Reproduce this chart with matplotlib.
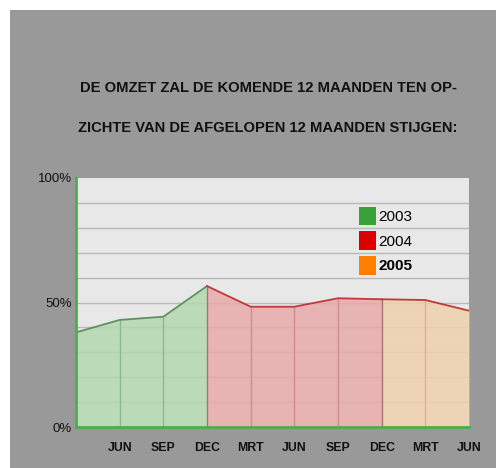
#omzet verwachting chart: area per year with grey background

import matplotlib
matplotlib.use("Agg")
import matplotlib.pyplot as plt
from matplotlib.patches import Patch, Rectangle

#data (percent)
months = ["MRT", "JUN", "SEP", "DEC", "MRT", "JUN", "SEP", "DEC", "MRT", "JUN"]
values = [38, 43, 44.3, 56.6, 48.3, 48.3, 51.7, 51.3, 51, 46.7]
years = ["2003", "2004", "2005"]
#index ranges of each year segment (start, end inclusive)
segments = [(0, 3), (3, 7), (7, 9)]

legend_colors = ["#3aa23a", "#dd0000", "#ff8000"]
fill_colors = ["#b4d8b0", "#e8aaaa", "#efd1ab"]
line_colors = ["#5c935c", "#c0393b", "#c0393b"]
vline_colors = ["#8fb88f", "#cc8f8f", "#d9b48f"]

plt.rcParams['font.family'] = ['Liberation Sans', 'DejaVu Sans']

fig = plt.figure(figsize=(4.96, 4.68), dpi=100)
fig.patch.set_facecolor("white")
fig.patches.append(Rectangle((10/496, 0), 486/496, 458/468, transform=fig.transFigure,
                             facecolor="#999999", edgecolor="none", zorder=-1))

ax = fig.add_axes([76/496, 41/468, 393/496, 249/468])
ax.set_zorder(2)
ax.set_facecolor("#e8e8e8")

#horizontal grid
for g in range(10, 100, 10):
    ax.axhline(g, color="#b9b9b9", lw=1, zorder=1)

x = list(range(len(values)))
for k, (a, b) in enumerate(segments):
    xs = x[a:b+1]
    ys = values[a:b+1]
    ax.fill_between(xs, 0, ys, color=fill_colors[k], alpha=0.85, lw=0, zorder=2)
    ax.plot(xs, ys, color=line_colors[k], lw=1.3, zorder=4)

#vertical lines under the curve
for i in range(1, len(values) - 1):
    c = vline_colors[0] if i < 3 else (vline_colors[1] if i < 7 else vline_colors[2])
    if i in (3, 7):
        c = "#b07070"
    ax.vlines(i, 0, values[i], color=c, lw=1, zorder=3)

ax.set_xlim(0, 9)
ax.set_ylim(0, 100)
ax.set_xticks(x[1:])
ax.set_xticklabels(months[1:], fontsize=8.8, fontweight="bold", color="#111111")
ax.set_yticks([0, 50, 100])
ax.set_yticklabels(["0%", "50%", "100%"], fontsize=9.5, color="#111111")
ax.tick_params(length=0, pad=3)
ax.tick_params(axis="x", pad=11)

for s in ["top", "right"]:
    ax.spines[s].set_visible(False)
ax.spines["left"].set_color("#4cae4c")
ax.spines["left"].set_linewidth(2)
ax.spines["bottom"].set_color("#4cae4c")
ax.spines["bottom"].set_linewidth(2)
ax.spines["left"].set_zorder(5)
ax.spines["bottom"].set_zorder(5)

handles = [Patch(facecolor=legend_colors[k], edgecolor="none") for k in range(3)]
leg = ax.legend(handles, years, loc="upper left", bbox_to_anchor=(283/393, 0.885),
                frameon=False, fontsize=11, handlelength=1.1, handleheight=1.5,
                handletextpad=0.15, labelspacing=0.4, borderpad=0, borderaxespad=0)
leg.get_texts()[2].set_fontweight("bold")

fig.text(268/496, 1 - 88/468, "DE OMZET ZAL DE KOMENDE 12 MAANDEN TEN OP-",
         ha="center", va="center", fontsize=10.6, fontweight="bold", color="#111111")
fig.text(268/496, 1 - 128/468, "ZICHTE VAN DE AFGELOPEN 12 MAANDEN STIJGEN:",
         ha="center", va="center", fontsize=10.6, fontweight="bold", color="#111111")

fig.savefig("out.png", dpi=100, facecolor=fig.get_facecolor())
